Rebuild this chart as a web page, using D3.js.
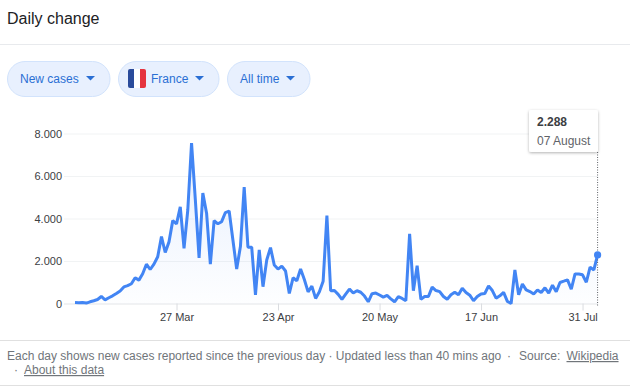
<!DOCTYPE html>
<html>
<head>
<meta charset="utf-8">
<script src="https://cdn.jsdelivr.net/npm/d3@7"></script>
<style>
  html, body { margin: 0; padding: 0; background: #fff; }
  svg { display: block; font-family: "Liberation Sans", Arial, sans-serif; }
  .ejes .domain { display: none; }
</style>
</head>
<body>
<div id="graf"></div>
<script>
const anchoTotal = 630
const altoTotal = 386

// one value per reported day
const newCases = [
  50, 40, 50, 20, 80, 130, 190, 330, 170, 270,
  360, 470, 590, 780, 840, 930, 1210, 1100, 1400, 1850,
  1600, 1850, 2200, 3150, 2400, 2900, 3900, 3750, 4550, 2600,
  4400, 7550, 4900, 2150, 5200, 4250, 1850, 3900, 3750, 3850,
  4280, 4350, 2990, 1620, 2680, 5480, 2650, 2650, 400, 2520,
  790, 2050, 2630, 1810, 1620, 1760, 1530, 470, 1210, 1070,
  1620, 1130, 550, 820, 240, 550, 1050, 4140, 600, 610,
  430, 190, 440, 680, 490, 600, 530, 350, 80, 460,
  490, 400, 300, 380, 220, 80, 320, 240, 130, 3280,
  600, 1780, 200, 330, 330, 770, 610, 560, 330, 200,
  410, 530, 410, 720, 520, 390, 130, 330, 450, 470,
  830, 610, 250, 360, 520, 100, 0, 1580, 410, 920,
  640, 560, 450, 640, 520, 740, 490, 860, 550, 990,
  1050, 1110, 670, 1390, 1390, 1350, 1000, 1710, 1580, 2288,
]
const dayTicks = [27, 54, 81, 108, 135]
const dayLabels = ['27 Mar', '23 Apr', '20 May', '17 Jun', '31 Jul']
const yTicks = [0, 2000, 4000, 6000, 8000]
const pillLabels = ['New cases', 'France', 'All time']
const flagColors = ['#2a4b9b', '#ffffff', '#e5343f']

const svg = d3.select('#graf')
  .append('svg')
  .attr('width', anchoTotal)
  .attr('height', altoTotal)

const defs = svg.append('defs')

const grad = defs.append('linearGradient')
  .attr('id', 'areaFill')
  .attr('x1', 0).attr('x2', 0)
  .attr('y1', 0).attr('y2', 1)
grad.append('stop').attr('offset', '0%').attr('stop-color', '#4285f4').attr('stop-opacity', 0.13)
grad.append('stop').attr('offset', '100%').attr('stop-color', '#4285f4').attr('stop-opacity', 0.01)

const shadow = defs.append('filter')
  .attr('id', 'sombra')
  .attr('x', '-20%').attr('y', '-20%')
  .attr('width', '140%').attr('height', '150%')
shadow.append('feDropShadow')
  .attr('dx', 0).attr('dy', 1)
  .attr('stdDeviation', 1.5)
  .attr('flood-color', '#000')
  .attr('flood-opacity', 0.3)

defs.append('clipPath')
  .attr('id', 'flagClip')
  .append('rect')
  .attr('x', 128).attr('y', 69)
  .attr('width', 18).attr('height', 19)
  .attr('rx', 2)

// header
svg.append('text')
  .attr('x', 7).attr('y', 24)
  .attr('font-size', 16)
  .attr('fill', '#202124')
  .text('Daily change')

svg.append('line')
  .attr('x1', 0).attr('x2', anchoTotal)
  .attr('y1', 44.5).attr('y2', 44.5)
  .attr('stroke', '#e8eaed')

// pills
const pillX = [7, 118, 227]
const pillW = [102.5, 100.5, 82.5]
const pillTextX = [20, 151, 240]
const caretX = [90.5, 199.5, 290.5]

const pills = svg.selectAll('.pill').data(pillLabels).enter().append('g').attr('class', 'pill')

pills.append('rect')
  .attr('x', (d, i) => pillX[i] + 0.5)
  .attr('y', 61.5)
  .attr('width', (d, i) => pillW[i])
  .attr('height', 35)
  .attr('rx', 17.5)
  .attr('fill', '#e8f0fe')
  .attr('stroke', '#d2e3fc')

pills.append('text')
  .attr('x', (d, i) => pillTextX[i])
  .attr('y', 83)
  .attr('font-size', 12)
  .attr('fill', '#2a6fd4')
  .text(d => d)

pills.append('path')
  .attr('d', (d, i) => `M${caretX[i] - 4.5},76 h9 l-4.5,4.5 z`)
  .attr('fill', '#2a6fd4')

// flag
const flag = svg.append('g').attr('clip-path', 'url(#flagClip)')
flag.selectAll('rect').data(flagColors).enter().append('rect')
  .attr('x', (d, i) => 128 + i * 6)
  .attr('y', 69)
  .attr('width', 6)
  .attr('height', 19)
  .attr('fill', d => d)

// chart
const x = d3.scaleLinear()
  .domain([0, newCases.length - 1])
  .range([75, 597.6])

const y = d3.scaleLinear()
  .domain([0, 8000])
  .range([303.5, 133.5])

const yAxisGroup = svg.append('g')
  .attr('class', 'ejes')
  .attr('transform', 'translate(64, 0)')
  .call(d3.axisLeft(y)
    .tickValues(yTicks)
    .tickSize(-534)
    .tickPadding(2)
    .tickFormat(d => d3.format(',')(d).replace(',', '.')))

yAxisGroup.selectAll('line').attr('stroke', d => d === 0 ? '#e3e5e8' : '#f1f3f4')
yAxisGroup.selectAll('text')
  .attr('font-size', 11)
  .attr('font-family', '"Liberation Sans", Arial, sans-serif')
  .attr('fill', '#3c4043')

const xAxisGroup = svg.append('g')
  .attr('class', 'ejes')
  .attr('transform', 'translate(0, 303.5)')
  .call(d3.axisBottom(x)
    .tickValues(dayTicks)
    .tickSize(7)
    .tickPadding(3)
    .tickFormat((d, i) => dayLabels[i]))

xAxisGroup.selectAll('line').attr('stroke', '#dadce0')
xAxisGroup.selectAll('text')
  .attr('font-size', 11)
  .attr('font-family', '"Liberation Sans", Arial, sans-serif')
  .attr('fill', '#3c4043')

const area = d3.area()
  .x((d, i) => x(i))
  .y0(y(0))
  .y1(d => y(d))

const line = d3.line()
  .x((d, i) => x(i))
  .y(d => y(d))

svg.append('path')
  .datum(newCases)
  .attr('d', area)
  .attr('fill', 'url(#areaFill)')

svg.append('path')
  .datum(newCases)
  .attr('d', line)
  .attr('fill', 'none')
  .attr('stroke', '#4285f4')
  .attr('stroke-width', 3)
  .attr('stroke-linejoin', 'bevel')

// hover marker on the last day
const lastIdx = newCases.length - 1

svg.append('line')
  .attr('x1', x(lastIdx)).attr('x2', x(lastIdx))
  .attr('y1', 152).attr('y2', 306)
  .attr('stroke', '#5f6368')
  .attr('stroke-dasharray', '1,1.5')

svg.append('circle')
  .attr('cx', x(lastIdx))
  .attr('cy', y(newCases[lastIdx]))
  .attr('r', 3.6)
  .attr('fill', '#4285f4')

svg.append('rect')
  .attr('x', 529).attr('y', 110)
  .attr('width', 69).attr('height', 42)
  .attr('rx', 2)
  .attr('fill', '#fff')
  .attr('filter', 'url(#sombra)')

svg.append('text')
  .attr('x', 537).attr('y', 126)
  .attr('font-size', 12)
  .attr('font-weight', 'bold')
  .attr('fill', '#3c4043')
  .text('2.288')

svg.append('text')
  .attr('x', 537).attr('y', 145)
  .attr('font-size', 12)
  .attr('fill', '#5f6368')
  .text('07 August')

// footer
svg.append('line')
  .attr('x1', 0).attr('x2', anchoTotal)
  .attr('y1', 340.5).attr('y2', 340.5)
  .attr('stroke', '#e0e0e0')

svg.append('line')
  .attr('x1', 0).attr('x2', anchoTotal)
  .attr('y1', 385.5).attr('y2', 385.5)
  .attr('stroke', '#e0e0e0')

svg.append('text')
  .attr('x', 7).attr('y', 360)
  .attr('font-size', 12)
  .attr('fill', '#70757a')
  .text('Each day shows new cases reported since the previous day · Updated less than 40 mins ago')

svg.append('text')
  .attr('x', 507).attr('y', 360)
  .attr('font-size', 12)
  .attr('fill', '#70757a')
  .text('·')

svg.append('text')
  .attr('x', 519).attr('y', 360)
  .attr('font-size', 12)
  .attr('fill', '#70757a')
  .text('Source:')

svg.append('text')
  .attr('x', 566.5).attr('y', 360)
  .attr('font-size', 12)
  .attr('fill', '#70757a')
  .attr('text-decoration', 'underline')
  .text('Wikipedia')

svg.append('text')
  .attr('x', 14).attr('y', 374)
  .attr('font-size', 12)
  .attr('fill', '#70757a')
  .text('·')

svg.append('text')
  .attr('x', 24).attr('y', 374)
  .attr('font-size', 12)
  .attr('fill', '#70757a')
  .attr('text-decoration', 'underline')
  .text('About this data')
</script>
</body>
</html>
